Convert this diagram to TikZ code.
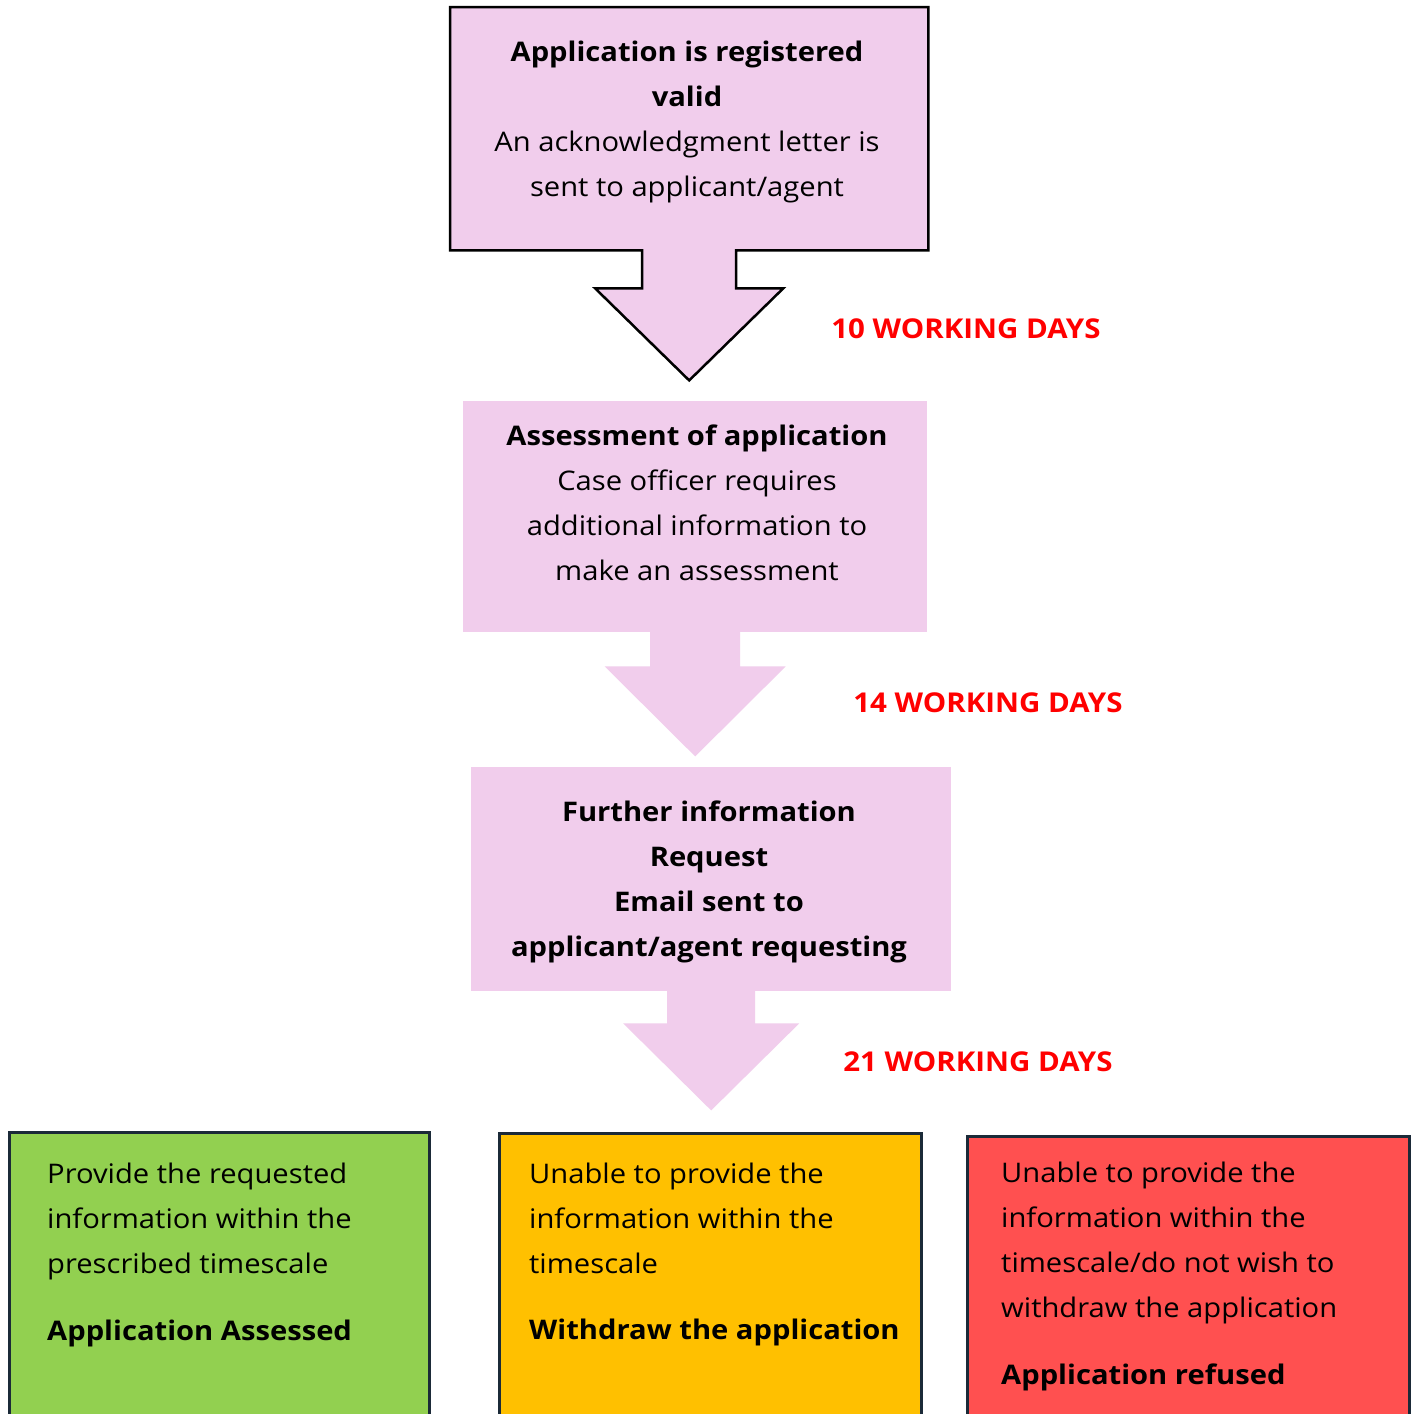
\documentclass[tikz,border=0pt]{standalone}
\usepackage{fontspec}
\setmainfont{Open Sans}[FakeStretch=1.08]
\usetikzlibrary{calc}
\definecolor{pk}{HTML}{F1CDEC}
\definecolor{gr}{HTML}{92D050}
\definecolor{og}{HTML}{FFC000}
\definecolor{rd}{HTML}{FF5050}
\definecolor{navy}{HTML}{1B2A38}
\definecolor{lab}{HTML}{FF0000}
\tikzset{
  stage/.style={fill=pk, draw=none, inner sep=0pt, anchor=north west},
  outcome/.style={draw=navy, line width=2.5pt, inner sep=0pt, anchor=north west},
  btext/.style={inner sep=0pt, align=center, font=\fontsize{27}{45}\selectfont},
  otext/.style={inner sep=0pt, align=left, anchor=north west, font=\fontsize{27}{45}\selectfont},
  daylab/.style={inner sep=0pt, text=lab, font=\fontsize{27.3}{30}\selectfont\bfseries},
  flow/.style={fill=pk, draw=none}
}
\begin{document}
\begin{tikzpicture}[x=1pt,y=-1pt]
\useasboundingbox (0,0) rectangle (1417,1414);
\clip (0,0) rectangle (1417,1414);
\fill[white] (0,0) rectangle (1417,1414);
% stage boxes
\node[stage, minimum width=478pt, minimum height=243pt] (b1) at (450,7) {};
\node[stage, minimum width=464pt, minimum height=231pt] (b2) at (463,401) {};
\node[stage, minimum width=480pt, minimum height=224pt] (b3) at (471,767) {};
% top callout outline with arrow
\draw[fill=pk, line width=2.5pt, line join=miter]
  (b1.north west) -- (b1.north east) -- (b1.south east)
  -- ($(b1.south)+(47,0)$) -- ($(b1.south)+(47,38)$) -- ($(b1.south)+(94,38)$)
  -- ($(b1.south)+(0,130)$) -- ($(b1.south)+(-94,38)$)
  -- ($(b1.south)+(-47,38)$) -- ($(b1.south)+(-47,0)$)
  -- (b1.south west) -- cycle;
% arrow b2 -> b3
\fill[flow] ($(b2.south)+(-45,-1)$) -- ($(b2.south)+(45,-1)$) -- ($(b2.south)+(45,34)$)
  -- ($(b2.south)+(90.5,34)$) -- ($(b2.south)+(0,124)$) -- ($(b2.south)+(-90.5,34)$)
  -- ($(b2.south)+(-45,34)$) -- cycle;
% arrow b3 -> outcomes
\fill[flow] ($(b3.south)+(-44,-1)$) -- ($(b3.south)+(44,-1)$) -- ($(b3.south)+(44,32)$)
  -- ($(b3.south)+(88,32)$) -- ($(b3.south)+(0,119)$) -- ($(b3.south)+(-88,32)$)
  -- ($(b3.south)+(-44,32)$) -- cycle;
% texts in stage boxes
\node[btext] (t1) at (687,122) {\textbf{Application is registered}\\\textbf{valid}\\An acknowledgment letter is\\sent to applicant/agent};
\node[btext] (t2) at (697,503) {\textbf{Assessment of application}\\Case officer requires\\additional information to\\make an assessment};
\node[btext] (t3) at (709,882) {\textbf{Further information}\\\textbf{Request}\\\textbf{Email sent to}\\\textbf{applicant/agent requesting}};
% day labels
\node[daylab] (d1) at (966,329) {10 WORKING DAYS};
\node[daylab] (d2) at (988,703) {14 WORKING DAYS};
\node[daylab] (d3) at (978,1062) {21 WORKING DAYS};
% outcome boxes
\node[outcome, fill=gr, minimum width=420pt, minimum height=300pt] (o1) at (8,1131) {};
\node[outcome, fill=og, minimum width=422pt, minimum height=300pt] (o2) at (498,1132) {};
\node[outcome, fill=rd, minimum width=442pt, minimum height=300pt] (o3) at (966,1135) {};
\node[otext] (ot1) at (47,1163) {Provide the requested\\information within the\\prescribed timescale\\[22pt]\textbf{Application Assessed}};
\node[otext] (ot2) at (529,1163) {Unable to provide the\\information within the\\timescale\\[21pt]\textbf{Withdraw the application}};
\node[otext] (ot3) at (1001,1162) {Unable to provide the\\information within the\\timescale/do not wish to\\withdraw the application\\[22pt]\textbf{Application refused}};
\end{tikzpicture}
\end{document}
